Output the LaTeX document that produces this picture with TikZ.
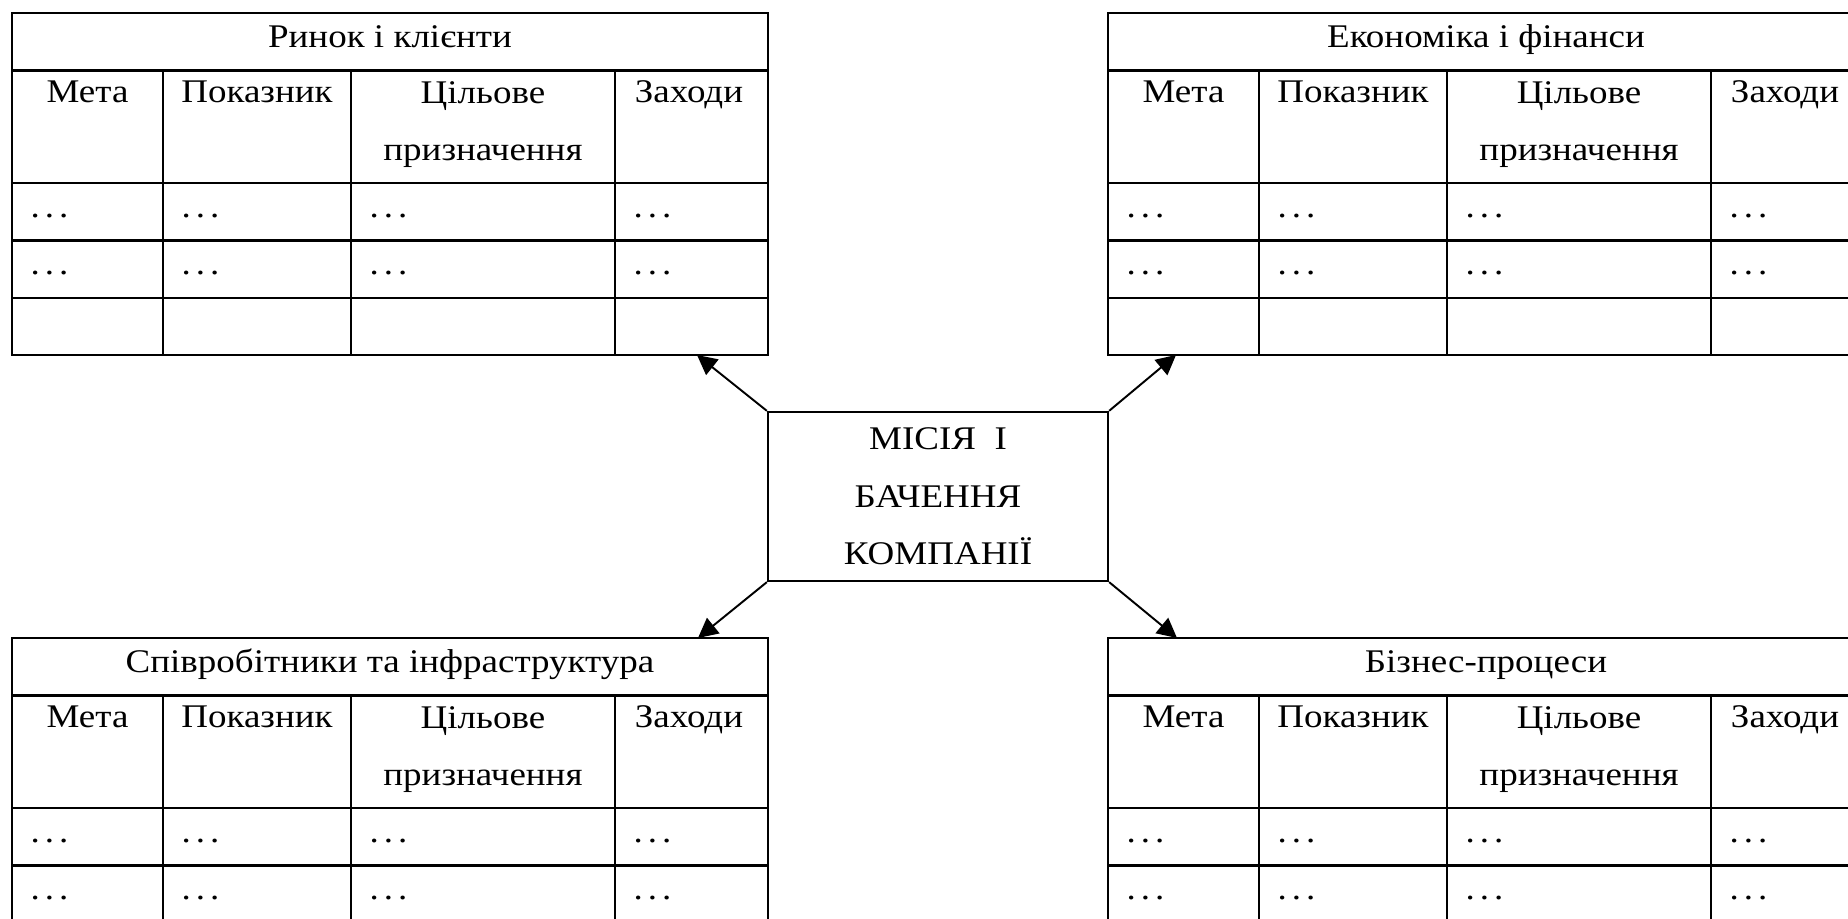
\documentclass[tikz,border=0pt]{standalone}
\usepackage{fontspec}
\setmainfont{Liberation Serif}[FakeStretch=1.12]
\usetikzlibrary{arrows.meta}

\newcommand{\trk}{.\kern1.4pt.\kern1.4pt.}

\tikzset{
  cell/.style={inner sep=0pt, anchor=base},
  dotcell/.style={inner sep=0pt, anchor=base west},
  grid line/.style={line width=0.65pt},
  arr/.style={line width=0.55pt, -{Triangle[length=5.6pt,width=5.6pt]}},
}

\begin{document}
\begin{tikzpicture}[font=\fontsize{9.4}{16.4}\selectfont]
	% page frame, tables run off the right and lower edge
	\useasboundingbox (0,0) rectangle (18.48,9.19);
	\clip (0,0) rectangle (18.48,9.19);
	% the four tables
	\foreach \x/\y/\ttl/\n in {0.12/9.06/Ринок і клієнти/rk,
	                          11.08/9.06/Економіка і фінанси/ef,
	                          0.12/2.81/Співробітники та інфраструктура/si,
	                          11.08/2.81/Бізнес-процеси/bp}{
	\begin{scope}[shift={(\x,\y)}]
		\draw[grid line] (0,0) rectangle (7.56,-3.42);
		\draw[grid line] (0,-0.575) -- (7.56,-0.575);
		\draw[grid line] (0,-1.70) -- (7.56,-1.70);
		\draw[grid line] (0,-2.275) -- (7.56,-2.275);
		\draw[grid line] (0,-2.85) -- (7.56,-2.85);
		\foreach \c in {1.51,3.39,6.03} \draw[grid line] (\c,-0.575) -- (\c,-3.42);
		% title row
		\node[cell] (\n-ttl) at (3.78,-0.345) {\ttl};
		% column heads
		\node[cell] (\n-h1) at (0.755,-0.90) {Мета};
		\node[cell] (\n-h2) at (2.45,-0.90) {Показник};
		\node[cell, align=center] (\n-h3) at (4.71,-1.477) {Цільове\\призначення};
		\node[cell] (\n-h4) at (6.77,-0.90) {Заходи};
		% rows
		\foreach \r/\ry in {1/-2.045, 2/-2.615}{
			\node[dotcell] (\n-r\r a) at (0.18,\ry) {\trk};
			\node[dotcell] (\n-r\r b) at (1.69,\ry) {\trk};
			\node[dotcell] (\n-r\r c) at (3.57,\ry) {\trk};
			\node[dotcell] (\n-r\r d) at (6.21,\ry) {\trk};
		}
	\end{scope}
	}
	% mission box
	\node[draw, grid line, minimum width=3.4cm, minimum height=1.69cm, inner sep=0pt, align=center] (mis) at (9.38,4.225)
		{МІСІЯ\ \ І\\БАЧЕННЯ\\КОМПАНІЇ};
	% arrow ends on the table edges
	\coordinate (rk-a) at (6.97,5.64);
	\coordinate (ef-a) at (11.76,5.64);
	\coordinate (si-a) at (6.98,2.81);
	\coordinate (bp-a) at (11.77,2.81);
	\draw[arr] (mis.north west) -- (rk-a);
	\draw[arr] (mis.north east) -- (ef-a);
	\draw[arr] (mis.south west) -- (si-a);
	\draw[arr] (mis.south east) -- (bp-a);
\end{tikzpicture}
\end{document}
